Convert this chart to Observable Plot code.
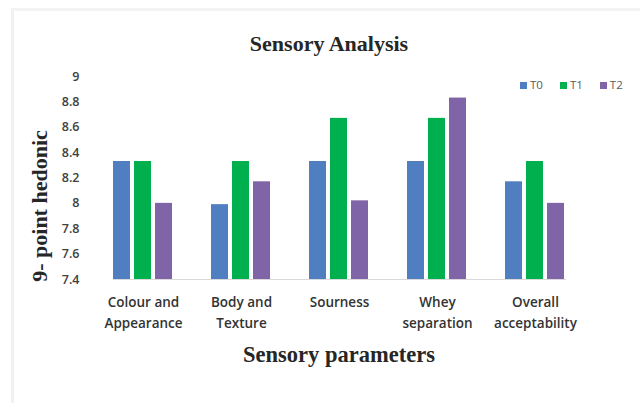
<!DOCTYPE html>
<html>
<head>
<meta charset="utf-8">
<script src="https://cdn.jsdelivr.net/npm/d3@7"></script>
<script src="https://cdn.jsdelivr.net/npm/@observablehq/plot@0.6"></script>
<style>
  html, body { margin: 0; padding: 0; background: #fff; }
  #wrap { position: relative; width: 640px; height: 403px; overflow: hidden; }
  #wrap svg { position: absolute; left: 0; top: 0; }
  .frame { position: absolute; left: 11px; top: 8px; width: 640px; height: 420px;
           border-left: 3px solid #f1f1f1; border-top: 3px solid #f3f3f3; }
  .title { position: absolute; left: 0; width: 640px; text-align: center;
           font-family: "Liberation Serif", "Times New Roman", serif; font-weight: bold; color: #262626; }
  #t1 { top: 31px; left: 9px; font-size: 22px; }
  #t2 { top: 342px; left: 19px; font-size: 22.5px; }
  #yl { position: absolute; left: 40px; top: 206px; transform: translate(-50%, -50%) rotate(-90deg);
        white-space: nowrap; font-family: "Liberation Serif", serif; font-weight: bold; font-size: 22px; color: #262626; }
  #legend { position: absolute; left: 520px; top: 77px; font-family: "Open Sans", sans-serif;
            font-size: 11.5px; color: #595959; white-space: nowrap; }
  #legend span.sw { display: inline-block; width: 7px; height: 7px; margin-right: 3px; vertical-align: 0px; }
  #legend span.it { margin-right: 17px; }
</style>
</head>
<body>
<div id="wrap">
  <div class="frame"></div>
  <div class="title" id="t1">Sensory Analysis</div>
  <div class="title" id="t2">Sensory parameters</div>
  <div id="yl">9- point hedonic</div>
  <div id="legend"></div>
</div>
<script>
const categories = ["Colour and\nAppearance", "Body and\nTexture", "Sourness", "Whey\nseparation", "Overall\nacceptability"];
const seriesNames = ["T0", "T1", "T2"];
const seriesColors = ["#4f7ec1", "#00b04f", "#8064a8"];
const T0 = [8.33, 7.99, 8.33, 8.33, 8.17];
const T1 = [8.33, 8.33, 8.67, 8.67, 8.33];
const T2 = [8.00, 8.17, 8.02, 8.83, 8.00];
const yTicks = [7.4, 7.6, 7.8, 8, 8.2, 8.4, 8.6, 8.8, 9];
const yBase = 7.4;

const seriesValues = [T0, T1, T2];
const data = [];
categories.forEach((c, i) => {
  seriesNames.forEach((s, j) => data.push({category: c, series: s, value: seriesValues[j][i]}));
});

const chart = Plot.plot({
  width: 640,
  height: 403,
  marginLeft: 93,
  marginRight: 55,
  marginTop: 76,
  marginBottom: 124,
  style: {background: "transparent", fontFamily: "'Open Sans', sans-serif"},
  fx: {domain: categories, paddingInner: 0.39, paddingOuter: 0.195, axis: "bottom", label: null, tickSize: 0, tickPadding: 18},
  x: {domain: seriesNames, paddingInner: 0.17, paddingOuter: 0, axis: null},
  y: {domain: [7.4, 9], ticks: yTicks, tickFormat: d => String(+d.toFixed(1)), tickSize: 0, tickPadding: 34, label: null},
  color: {domain: seriesNames, range: seriesColors},
  marks: [
    Plot.barY(data, {fx: "category", x: "series", y1: yBase, y2: "value", fill: "series"}),
    Plot.frame({anchor: "bottom", stroke: "#d9d9d9", strokeWidth: 1, facet: "super"})
  ]
});
d3.select(chart).selectAll("[aria-label^='y-axis'] text")
  .style("font-size", "12.5px").style("font-weight", "600").attr("fill", "#404040");
d3.select(chart).selectAll("[aria-label^='fx-axis'] text")
  .style("font-size", "13.5px").style("font-weight", "600").attr("fill", "#333")
  .each(function() {
    d3.select(this).selectAll("tspan").filter((d, i) => i > 0).attr("dy", "21px");
  });
document.getElementById("wrap").appendChild(chart);

const lg = document.getElementById("legend");
seriesNames.forEach((s, j) => {
  const sw = document.createElement("span"); sw.className = "sw"; sw.style.background = seriesColors[j];
  const it = document.createElement("span"); it.className = "it"; it.textContent = s;
  lg.appendChild(sw); lg.appendChild(it);
});
</script>
</body>
</html>
